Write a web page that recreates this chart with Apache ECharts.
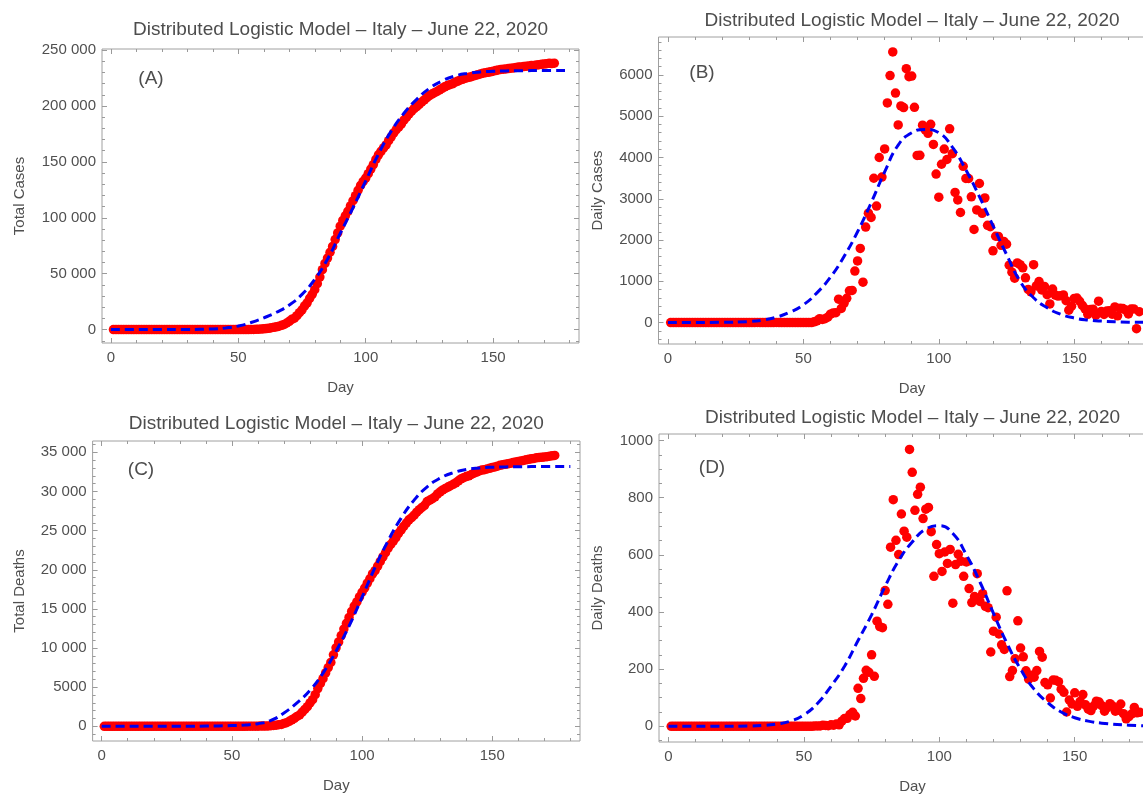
<!DOCTYPE html>
<html><head><meta charset="utf-8">
<script src="https://cdn.jsdelivr.net/npm/echarts@6/dist/echarts.min.js"></script>
<style>html,body{margin:0;padding:0;background:#fff}#c{width:1143px;height:795px}</style>
</head><body><div id="c"></div>
<script>
const TITLE = 'Distributed Logistic Model \u2013 Italy \u2013 June 22, 2020';
const xTickLabels = [0, 50, 100, 150];
const yTicksA = [0, 50000, 100000, 150000, 200000, 250000];
const yTicksB = [0, 1000, 2000, 3000, 4000, 5000, 6000];
const yTicksC = [0, 5000, 10000, 15000, 20000, 25000, 30000, 35000];
const yTicksD = [0, 200, 400, 600, 800, 1000];

// Observed data, day 1 .. day 174
const totalCases = [
0,0,0,0,0,0,0,0,0,0,0,0,0,0,0,0,0,0,0,0,0,0,0,0,0,0,0,0,0,0,0,0,
2,2,2,2,2,2,2,
3,3,3,3,3,3,3,3,3,3,3,3,3,3,
20,62,155,229,322,453,655,888,1128,
1694,2036,2502,3089,3858,4636,5883,7375,9172,10149,
12462,15113,17660,21157,23980,27980,31506,35713,41035,47021,
53578,59138,63927,69176,74386,80539,86498,92472,97689,101739,
105792,110574,115242,119827,124632,128948,132547,135586,139422,143626,
147577,152271,156363,159516,162488,165155,168941,172434,175925,178972,
181228,183957,187327,189973,192994,195351,197675,199414,201505,203591,
205463,207428,209328,210717,211938,213013,214457,215858,217185,218268,
219070,219814,221216,222104,223096,223885,224760,225435,225886,226699,
227364,228006,228658,229327,229858,230158,230555,231139,231732,232248,
232664,232997,233197,233515,233836,234013,234531,234801,234998,235278,
235561,235763,236142,236305,236651,236989,237290,237500,237828,238159,
238011,238275];

const dailyCases = [
0,0,0,0,0,0,0,0,0,0,0,0,0,0,0,0,0,0,0,0,0,0,0,0,0,0,0,0,0,0,0,0,
2,0,0,0,0,0,0,
1,0,0,0,0,0,0,0,0,0,0,0,0,0,
17,42,93,74,93,131,202,233,240,
566,342,466,587,769,778,1247,1492,1797,977,
2313,2651,2547,3497,2823,4000,3526,4207,5322,5986,
6557,5560,4789,5249,5210,6153,5959,5974,5217,4050,
4053,4782,4668,4585,4805,4316,3599,3039,3836,4204,
3951,4694,4092,3153,2972,2667,3786,3493,3491,3047,
2256,2729,3370,2646,3021,2357,2324,1739,2091,2086,
1872,1965,1900,1389,1221,1075,1444,1401,1327,1083,
802,744,1402,888,992,789,875,675,451,813,
665,642,652,669,531,300,397,584,593,516,
416,333,200,318,321,177,518,270,197,280,
283,202,379,163,346,338,301,210,328,331,
-148,264];

const totalDeaths = [
0,0,0,0,0,0,0,0,0,0,0,0,0,0,0,0,0,0,0,0,0,0,0,0,0,0,0,0,0,0,0,0,
0,0,0,0,0,0,0,0,0,0,0,0,0,0,0,0,0,0,0,0,0,
1,2,3,7,10,12,17,21,29,
34,52,79,107,148,197,233,366,463,631,
827,1016,1266,1441,1809,2158,2503,2978,3405,4032,
4825,5476,6077,6820,7503,8165,9134,10023,10779,11591,
12428,13155,13915,14681,15362,15887,16523,17127,17669,18279,
18849,19468,19899,20465,21067,21645,22170,22745,23227,23660,
24114,24648,25085,25549,25969,26384,26644,26977,27359,27682,
27967,28236,28710,28884,29079,29315,29684,29958,30201,30395,
30560,30739,30911,31106,31368,31610,31763,31908,32007,32169,
32330,32486,32616,32735,32785,32877,32955,33072,33142,33229,
33340,33415,33475,33530,33601,33689,33774,33846,33899,33964,
34043,34114,34167,34223,34301,34345,34371,34405,34448,34514,
34561,34610];

const dailyDeaths = [
0,0,0,0,0,0,0,0,0,0,0,0,0,0,0,0,0,0,0,0,0,0,0,0,0,0,0,0,0,0,0,0,
0,0,0,0,0,0,0,0,0,0,0,0,0,0,0,0,0,0,0,0,0,
1,1,1,4,3,2,5,4,8,
5,18,27,28,41,49,36,133,97,168,
196,189,250,175,368,349,345,475,427,627,
793,651,601,743,683,662,969,889,756,812,
837,727,760,766,681,525,636,604,542,610,
570,619,431,566,602,578,525,575,482,433,
454,534,437,464,420,415,260,333,382,323,
285,269,474,174,195,236,369,274,243,194,
165,179,172,195,262,242,153,145,99,162,
161,156,130,119,50,92,78,117,70,87,
111,75,60,55,71,88,85,72,53,65,
79,71,53,56,78,44,26,34,43,66,
47,49];

// Model curves
const modelDays = [0,20,30,35,40,45,50,55,60,65,70,75,80,85,90,95,100,105,110,115,120,125,130,135,140,145,150,155,160,170,180];
const modelTotalCases = [0,0,100,250,600,1500,3200,6300,10500,15500,22000,31500,45000,63000,86000,109000,133000,157000,177500,193500,206000,215800,222500,226800,229200,230500,231100,231400,231550,231700,231700];
const modelDailyCases = [0,5,25,60,130,250,430,720,1100,1600,2200,2900,3650,4300,4600,4680,4600,4250,3700,3050,2350,1650,1000,600,360,200,110,60,35,10,3];
const modelTotalDeaths = [0,0,5,10,25,50,90,170,330,750,1700,3000,4600,6800,9600,12800,16500,20300,23700,26600,28900,30600,31700,32400,32800,33000,33100,33140,33160,33190,33200];
const modelDailyDeaths = [0,0,1,3,8,18,40,80,140,210,300,390,490,580,645,690,702,675,600,505,395,290,200,130,83,50,30,18,11,4,1];

const FONT = '"Liberation Sans", Arial, sans-serif';
const LBL = '#505050';
const TICK = '#9a9a9a';
const RED = '#ff0000';
const BLUE = '#0000f0';

function range(a, b, s, skip) { const r = []; for (let v = a; v <= b + 1e-9; v += s) { if (!skip.includes(v)) r.push(v); } return r; }
function fmt(v) { const a = Math.abs(v); let s = String(a); if (a >= 10000) s = s.replace(/\B(?=(\d{3})+(?!\d))/g, ' '); return (v < 0 ? '-' : '') + s; }

const xMinor = range(10, 180, 10, xTickLabels);
const panels = [
  { grid: {left: 102, top: 49, width: 477, height: 294}, y: [-12000, 251000], yMajor: yTicksA, yMinor: range(-10000, 250000, 10000, yTicksA),
    yName: 'Total Cases', yGap: 75, obs: totalCases, model: modelTotalCases, label: '(A)', lx: 151, ly: 79, tTop: 20 },
  { grid: {left: 658.5, top: 37, width: 507, height: 307}, y: [-520, 6920], yMajor: yTicksB, yMinor: range(-400, 6800, 200, yTicksB),
    yName: 'Daily Cases', yGap: 53, obs: dailyCases, model: modelDailyCases, label: '(B)', lx: 702, ly: 73, tTop: 11 },
  { grid: {left: 92.6, top: 441, width: 487.4, height: 300}, y: [-1880, 36450], yMajor: yTicksC, yMinor: range(-1000, 36000, 1000, yTicksC),
    yName: 'Total Deaths', yGap: 65, obs: totalDeaths, model: modelTotalDeaths, label: '(C)', lx: 141, ly: 470, tTop: 414 },
  { grid: {left: 659, top: 434, width: 507, height: 308}, y: [-55, 1023], yMajor: yTicksD, yMinor: range(-50, 1000, 50, yTicksD),
    yName: 'Daily Deaths', yGap: 54, obs: dailyDeaths, model: modelDailyDeaths, label: '(D)', lx: 712, ly: 468, tTop: 408 }
];

const grids = [], xAxes = [], yAxes = [], series = [], titles = [], graphics = [];
panels.forEach((p, i) => {
  grids.push(Object.assign({show: true, borderColor: '#a0a0a0', borderWidth: 1, backgroundColor: 'transparent', containLabel: false, outerBoundsMode: 'none'}, p.grid));
  const tickStyle = {color: TICK, width: 1};
  const noLine = {show: false, onZero: false};
  const xb = {type: 'value', gridIndex: i, min: -3.5, max: 183.7, splitLine: {show: false}, axisLine: noLine};
  xAxes.push(
    Object.assign({}, xb, {position: 'bottom',
      axisTick: {show: true, inside: true, length: 5, customValues: xTickLabels, lineStyle: tickStyle},
      axisLabel: {show: true, customValues: xTickLabels, margin: 7, color: LBL, fontSize: 15, fontFamily: FONT},
      name: 'Day', nameLocation: 'middle', nameGap: 37, nameTextStyle: {color: LBL, fontSize: 15, fontFamily: FONT}}),
    Object.assign({}, xb, {position: 'bottom', axisTick: {show: true, inside: true, length: 3, customValues: xMinor, lineStyle: tickStyle}, axisLabel: {show: false}}),
    Object.assign({}, xb, {position: 'top', axisTick: {show: true, inside: true, length: 5, customValues: xTickLabels, lineStyle: tickStyle}, axisLabel: {show: false}}),
    Object.assign({}, xb, {position: 'top', axisTick: {show: true, inside: true, length: 3, customValues: xMinor, lineStyle: tickStyle}, axisLabel: {show: false}})
  );
  const yb = {type: 'value', gridIndex: i, min: p.y[0], max: p.y[1], splitLine: {show: false}, axisLine: noLine};
  yAxes.push(
    Object.assign({}, yb, {position: 'left',
      axisTick: {show: true, inside: true, length: 5, customValues: p.yMajor, lineStyle: tickStyle},
      axisLabel: {show: true, customValues: p.yMajor, formatter: fmt, margin: 6, color: LBL, fontSize: 15, fontFamily: FONT},
      name: p.yName, nameLocation: 'middle', nameGap: p.yGap, nameRotate: 90, nameTextStyle: {color: LBL, fontSize: 15, fontFamily: FONT}}),
    Object.assign({}, yb, {position: 'left', axisTick: {show: true, inside: true, length: 3, customValues: p.yMinor, lineStyle: tickStyle}, axisLabel: {show: false}}),
    Object.assign({}, yb, {position: 'right', axisTick: {show: true, inside: true, length: 5, customValues: p.yMajor, lineStyle: tickStyle}, axisLabel: {show: false}}),
    Object.assign({}, yb, {position: 'right', axisTick: {show: true, inside: true, length: 3, customValues: p.yMinor, lineStyle: tickStyle}, axisLabel: {show: false}})
  );
  series.push({
    type: 'scatter', xAxisIndex: 4 * i, yAxisIndex: 4 * i, symbol: 'circle', symbolSize: 9.5,
    itemStyle: {color: RED, opacity: 1}, z: 2,
    data: p.obs.map((v, k) => [k + 1, v])
  });
  series.push({
    type: 'line', xAxisIndex: 4 * i, yAxisIndex: 4 * i, showSymbol: false, symbol: 'none',
    smooth: 0.5, z: 3,
    lineStyle: {color: BLUE, width: 3, type: [9, 5]},
    data: modelDays.map((d, k) => [d, p.model[k]])
  });
  const cx = p.grid.left + p.grid.width / 2;
  titles.push({text: TITLE, left: cx, top: p.tTop, textAlign: 'center', padding: 0,
    textStyle: {fontSize: 19, fontWeight: 'normal', color: '#4d4d4d', fontFamily: FONT}});
  graphics.push({type: 'text', x: p.lx, y: p.ly, z: 10,
    style: {text: p.label, fontSize: 19, fontFamily: FONT, fill: '#4d4d4d', align: 'center', verticalAlign: 'middle'}});
});

const chart = echarts.init(document.getElementById('c'), null, {renderer: 'canvas'});
chart.setOption({
  animation: false,
  backgroundColor: '#ffffff',
  title: titles,
  grid: grids,
  xAxis: xAxes,
  yAxis: yAxes,
  series: series,
  graphic: graphics
});
</script>
</body></html>
